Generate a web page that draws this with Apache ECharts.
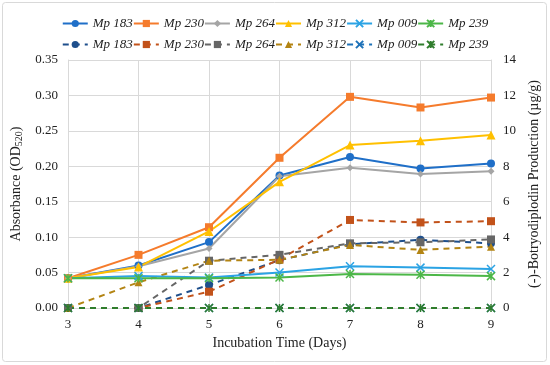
<!DOCTYPE html>
<html><head><meta charset="utf-8">
<script src="https://cdn.jsdelivr.net/npm/echarts@6/dist/echarts.min.js"></script>
<style>
html,body{margin:0;padding:0;background:#fff;}
#c{width:550px;height:365px;}
</style></head>
<body><div id="c"></div>
<script>
const days = ['3','4','5','6','7','8','9'];
const names = ['Mp 183','Mp 230','Mp 264','Mp 312','Mp 009','Mp 239'];
// Absorbance (OD520), left axis, solid lines
const abs183 = [0.042, 0.060, 0.093, 0.187, 0.213, 0.197, 0.204];
const abs230 = [0.042, 0.075, 0.114, 0.212, 0.298, 0.283, 0.297];
const abs264 = [0.042, 0.059, 0.084, 0.186, 0.198, 0.189, 0.193];
const abs312 = [0.042, 0.058, 0.108, 0.178, 0.230, 0.236, 0.244];
const abs009 = [0.042, 0.045, 0.043, 0.050, 0.059, 0.057, 0.055];
const abs239 = [0.042, 0.042, 0.042, 0.043, 0.048, 0.047, 0.045];
// (-)-Botryodiplodin production (µg/g), right axis, dashed lines
const prod183 = [0, 0, 1.30, 2.70, 3.60, 3.85, 3.65];
const prod230 = [0, 0, 0.92, 2.75, 4.97, 4.83, 4.90];
const prod264 = [0, 0, 2.67, 3.00, 3.65, 3.71, 3.87];
const prod312 = [0, 1.45, 2.67, 2.72, 3.56, 3.28, 3.46];
const prod009 = [0, 0, 0, 0, 0, 0, 0];
const prod239 = [0, 0, 0, 0, 0, 0, 0];
const leftTicks = [0, 0.35, 0.05];
const rightTicks = [0, 14, 2];

const absData = [abs183, abs230, abs264, abs312, abs009, abs239];
const prodData = [prod183, prod230, prod264, prod312, prod009, prod239];
const solidColors = ['#1f6fc8','#f57b2c','#a5a5a5','#ffc000','#2ba3e4','#4cb748'];
const dashColors = ['#1e4f8c','#c2521a','#666666','#b38413','#1e72b8','#2f7d2c'];
const xPath = 'path://M0,0L10,10M10,0L0,10';
const starPath = 'path://M0,0L10,10M10,0L0,10M5,0L5,10';
const solidSymbols = ['circle','rect','diamond','triangle', xPath, starPath];
const dashSymbols = ['circle','rect','rect','triangle', xPath, starPath];
const sizes = [8,8,7,9,8,8];
const dashSizes = [8,8,8,8,8,8];

const series = [];
for (let i=0;i<6;i++){
  const pathSym = i>=4;
  series.push({
    name: names[i]+' ', type:'line', yAxisIndex:0, data: absData[i],
    symbol: solidSymbols[i], symbolSize: sizes[i], showAllSymbol:true,
    lineStyle:{color:solidColors[i], width:2},
    itemStyle:{color: pathSym ? 'none' : solidColors[i], borderColor: solidColors[i], borderWidth: pathSym?1.5:0},
    z: 3
  });
}
for (let i=0;i<6;i++){
  const pathSym = i>=4;
  series.push({
    name: names[i], type:'line', yAxisIndex:1, data: prodData[i],
    symbol: dashSymbols[i], symbolSize: dashSizes[i], showAllSymbol:true,
    lineStyle:{color:dashColors[i], width:2, type:[6,5]},
    itemStyle:{color: pathSym ? 'none' : dashColors[i], borderColor: dashColors[i], borderWidth: pathSym?1.5:0},
    z: 2
  });
}

const serif = '"Liberation Serif","Times New Roman",serif';
const legendText = {fontFamily:serif, fontStyle:'italic', fontSize:13, color:'#222', width:38, overflow:'none'};
const chart = echarts.init(document.getElementById('c'), null, {renderer:'canvas'});
chart.setOption({
  animation:false,
  backgroundColor:'#fff',
  textStyle:{fontFamily:serif},
  graphic:[{type:'rect', shape:{x:2.5,y:2.5,width:544,height:359,r:3}, style:{fill:'none', stroke:'#d9d9d9', lineWidth:1}, silent:true}],
  grid:{left:68, right:59, top:60, bottom:57, containLabel:false},
  legend:[
    {top:12, left:'center', itemWidth:25, itemHeight:9, itemGap:0, data:names.map(n=>n+' '),
     formatter:(n)=>n.trim(), textStyle:legendText},
    {top:33, left:'center', itemWidth:25, itemHeight:9, itemGap:0, data:names,
     textStyle:legendText}
  ],
  xAxis:{type:'category', data:days, boundaryGap:false,
    name:'Incubation Time (Days)', nameLocation:'middle', nameGap:28,
    nameTextStyle:{fontFamily:serif, fontSize:14, color:'#222'},
    axisLine:{show:true, lineStyle:{color:'#d9d9d9'}}, axisTick:{show:false},
    axisLabel:{fontFamily:serif, fontSize:13, color:'#222', margin:10},
    splitLine:{show:true, lineStyle:{color:'#d9d9d9', width:1}}},
  yAxis:[
    {type:'value', min:leftTicks[0], max:leftTicks[1], interval:leftTicks[2],
     name:'{a|Absorbance (OD}{s|520}{a|)}', nameLocation:'middle', nameGap:38, nameRotate:90,
     nameTextStyle:{rich:{a:{fontFamily:serif, fontSize:14, color:'#222'}, s:{fontFamily:serif, fontSize:10, color:'#222', verticalAlign:'bottom', padding:[6,0,0,0]}}},
     axisLine:{show:true, lineStyle:{color:'#d9d9d9'}}, axisTick:{show:false},
     axisLabel:{fontFamily:serif, fontSize:13, color:'#222', margin:10, formatter:(v)=>v.toFixed(2)},
     splitLine:{show:true, lineStyle:{color:'#d9d9d9', width:1}}},
    {type:'value', min:rightTicks[0], max:rightTicks[1], interval:rightTicks[2], position:'right',
     name:'(-)-Botryodiplodin Production (µg/g)', nameLocation:'middle', nameGap:36, nameRotate:90,
     nameTextStyle:{fontFamily:serif, fontSize:14, color:'#222'},
     axisLine:{show:true, lineStyle:{color:'#d9d9d9'}}, axisTick:{show:false},
     axisLabel:{fontFamily:serif, fontSize:13, color:'#222', margin:12},
     splitLine:{show:false}}
  ],
  series: series
});
</script></body></html>
